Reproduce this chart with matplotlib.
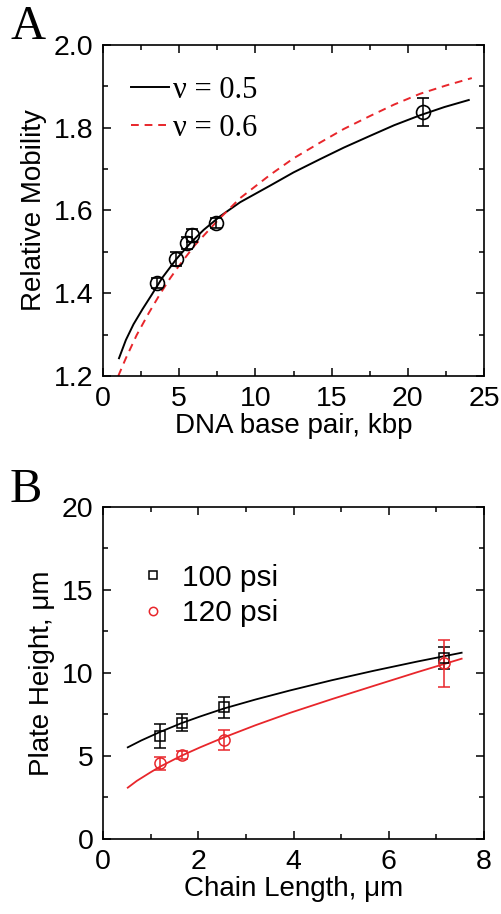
import matplotlib
matplotlib.use("Agg")
import matplotlib.pyplot as plt
from matplotlib.ticker import MultipleLocator

plt.rcParams['font.family'] = ['Liberation Sans', 'DejaVu Sans']

# Panel A: measured mobility vs DNA size
dna_kbp = [3.52, 4.79, 5.53, 5.84, 7.41, 21.0]
mobility = [1.425, 1.482, 1.522, 1.540, 1.569, 1.837]
mobility_err = [0.012, 0.017, 0.014, 0.016, 0.012, 0.034]

# fit curves
fit05_x = [1.05, 1.5, 2.0, 2.6, 3.19, 3.9, 4.8, 5.7, 6.6, 7.68, 9.0, 10.96, 12.5, 14.24, 15.8, 17.5, 19.1, 20.8, 22.4, 24.0]
fit05_y = [1.243, 1.287, 1.325, 1.362, 1.396, 1.438, 1.482, 1.520, 1.553, 1.586, 1.620, 1.660, 1.692, 1.724, 1.752, 1.780, 1.806, 1.830, 1.850, 1.867]
fit06_x = [1.0, 1.5, 2.21, 3.0, 3.74, 4.4, 5.0, 6.0, 7.5, 9.0, 10.96, 12.5, 14.24, 15.8, 17.5, 19.1, 20.8, 22.5, 24.2]
fit06_y = [1.200, 1.243, 1.299, 1.352, 1.398, 1.436, 1.467, 1.515, 1.575, 1.630, 1.686, 1.726, 1.764, 1.797, 1.828, 1.856, 1.882, 1.902, 1.920]

# Panel B: plate height vs chain length
chain_len = [1.20, 1.65, 2.54, 7.16]
h100 = [6.22, 7.01, 7.93, 10.92]
h100_err = [0.71, 0.53, 0.63, 0.67]
h120 = [4.56, 5.04, 5.96, 10.58]
h120_err = [0.38, 0.25, 0.62, 1.41]

fit100_x = [0.52, 0.8, 1.2, 1.65, 2.04, 2.54, 3.2, 3.93, 4.8, 5.68, 6.6, 7.53]
fit100_y = [5.52, 5.93, 6.45, 6.98, 7.38, 7.86, 8.40, 8.95, 9.56, 10.13, 10.69, 11.22]
fit120_x = [0.52, 0.71, 1.0, 1.2, 1.65, 2.04, 2.54, 3.2, 3.93, 4.8, 5.68, 6.6, 7.53]
fit120_y = [3.09, 3.50, 4.02, 4.36, 5.02, 5.52, 6.12, 6.85, 7.60, 8.42, 9.22, 10.05, 10.86]

RED = '#e8262b'

fig = plt.figure(figsize=(5.01, 9.14), dpi=100)
axA = fig.add_axes([0.2056, 0.5886, 0.7605, 0.3622])
axB = fig.add_axes([0.2056, 0.0821, 0.7605, 0.3632])

def style(ax):
    for s in ax.spines.values():
        s.set_linewidth(1.2)
    ax.tick_params(which='both', direction='in', top=True, right=True, labelsize=20.5, width=1.1)
    ax.tick_params(which='major', length=6, pad=7)
    ax.tick_params(which='minor', length=3.5)

# --- A ---
axA.plot(fit05_x, fit05_y, color='black', lw=1.4, label='ν = 0.5')
axA.plot(fit06_x, fit06_y, color=RED, lw=1.4, ls=(0, (4, 3)), label='ν = 0.6')
axA.errorbar(dna_kbp, mobility, yerr=mobility_err, fmt='o', mfc='none', mec='black',
             ms=10, mew=1.2, ecolor='black', elinewidth=1.1, capsize=4, capthick=1.1)
axA.set_xlim(0, 25)
axA.set_ylim(1.2, 2.0)
axA.xaxis.set_major_locator(MultipleLocator(5))
axA.xaxis.set_minor_locator(MultipleLocator(2.5))
axA.yaxis.set_major_locator(MultipleLocator(0.2))
axA.yaxis.set_minor_locator(MultipleLocator(0.1))
axA.set_xlabel('DNA base pair, kbp', fontsize=20, labelpad=1)
axA.set_ylabel('Relative Mobility', fontsize=20, labelpad=5)
style(axA)
axA.legend(loc='upper left', frameon=False, prop={'family': 'Liberation Serif', 'size': 22},
           handlelength=1.25, handletextpad=0.15, labelspacing=0.3, borderaxespad=0.5,
           bbox_to_anchor=(0.0, 0.99))
fig.text(0.02, 0.946, 'A', fontsize=35, family='Liberation Serif', va='bottom', ha='left')

# --- B ---
axB.plot(fit100_x, fit100_y, color='black', lw=1.3)
axB.plot(fit120_x, fit120_y, color=RED, lw=1.3)
axB.errorbar(chain_len, h100, yerr=h100_err, fmt='s', mfc='none', mec='black', ms=7, mew=1.1,
             ecolor='black', elinewidth=1.1, capsize=4, capthick=1.1, label='100 psi')
axB.errorbar(chain_len, h120, yerr=h120_err, fmt='o', mfc='none', mec=RED, ms=8, mew=1.1,
             ecolor=RED, elinewidth=1.1, capsize=4, capthick=1.1, label='120 psi')
axB.set_xlim(0, 8)
axB.set_ylim(0, 20)
axB.xaxis.set_major_locator(MultipleLocator(2))
axB.xaxis.set_minor_locator(MultipleLocator(1))
axB.yaxis.set_major_locator(MultipleLocator(5))
axB.yaxis.set_minor_locator(MultipleLocator(2.5))
axB.set_xlabel('Chain Length, μm', fontsize=20, labelpad=1)
axB.set_ylabel('Plate Height, μm', fontsize=20, labelpad=5)
style(axB)
hs, ls = axB.get_legend_handles_labels()
hs = [h[0] for h in hs]
axB.legend(hs, ls, loc='upper left', frameon=False, fontsize=21.5, bbox_to_anchor=(0.03, 0.91),
           handlelength=0.8, handletextpad=0.55, labelspacing=0.25, markerscale=0.75)
fig.text(0.02, 0.44, 'B', fontsize=35, family='Liberation Serif', va='bottom', ha='left')

fig.savefig('out.png', dpi=100)
